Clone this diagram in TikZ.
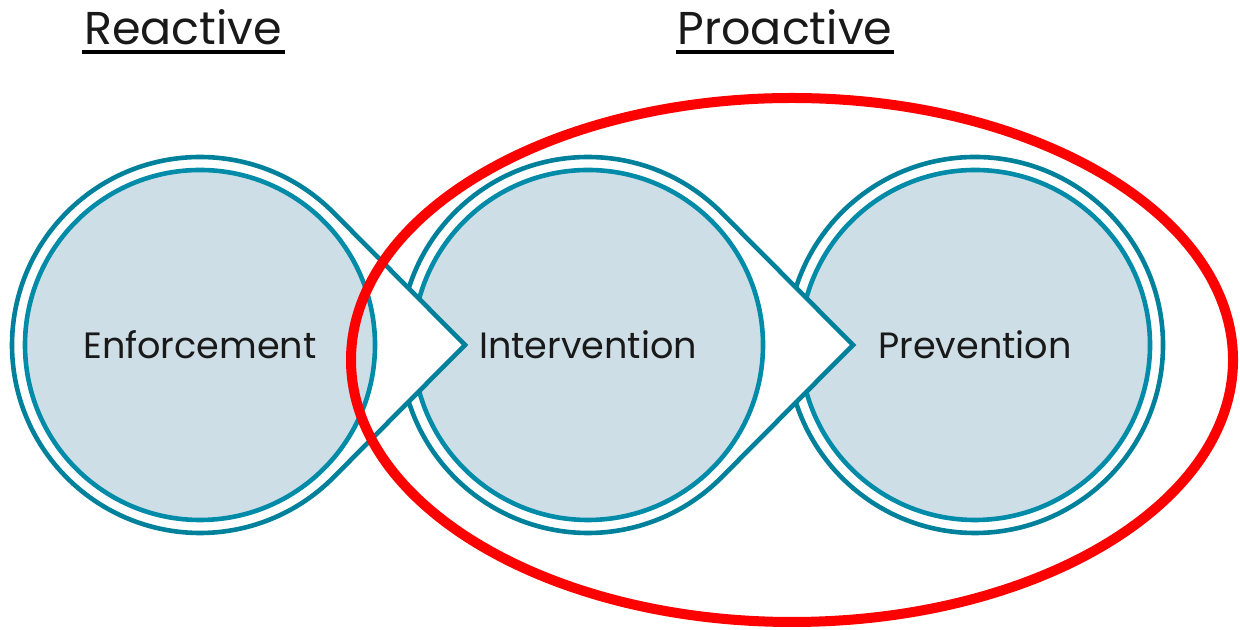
\documentclass[tikz,border=0pt]{standalone}
\usepackage{fontspec}
\setmainfont{Poppins}
\usetikzlibrary{calc}

\definecolor{ringteal}{HTML}{00819B}
\definecolor{innerteal}{HTML}{008CA8}
\definecolor{discfill}{HTML}{CEDEE6}
\definecolor{ovalred}{HTML}{FF0000}

\tikzset{
	outerring/.style={draw=ringteal, line width=2.3pt, fill=white, line join=miter},
	innerdisc/.style={draw=innerteal, line width=2.3pt, fill=discfill},
	stagelabel/.style={font=\fontsize{18.3}{20}\selectfont, text=black!90},
	sidetitle/.style={font=\fontsize{23}{25}\selectfont, text=black!90, anchor=base},
	titlerule/.style={line width=1.7pt, black}
}

\begin{document}
\begin{tikzpicture}[x=0.5pt, y=0.5pt]
		\useasboundingbox (0,0) rectangle (1240,630);

		% stage centres
		\coordinate (enf) at (200,285);
		\coordinate (int) at (588,285);
		\coordinate (prev) at (975,285);

		% right-most stage first, so each pointer covers the next one
		\draw[outerring] (prev) circle[radius=188];
		\draw[innerdisc] (prev) circle[radius=175];

		\coordinate (int tip) at (853,285);
		\draw[outerring] ($(int)+(44.8:188)$)
			arc[start angle=44.8, end angle=315.2, radius=188]
			-- (int tip) -- cycle;
		\draw[innerdisc] (int) circle[radius=175];

		\coordinate (enf tip) at (465,285);
		\draw[outerring] ($(enf)+(44.8:188)$)
			arc[start angle=44.8, end angle=315.2, radius=188]
			-- (enf tip) -- cycle;
		\draw[innerdisc] (enf) circle[radius=175];

		\node[stagelabel] (enf label) at (enf) {Enforcement};
		\node[stagelabel] (int label) at (int) {Intervention};
		\node[stagelabel] (prev label) at (prev) {Prevention};

		% proactive ring
		\draw[ovalred, line width=5pt] (792,270) ellipse[x radius=441, y radius=262];

		% titles
		\node[sidetitle] (reactive) at (183,585) {Reactive};
		\node[sidetitle] (proactive) at (785,585) {Proactive};
		\draw[titlerule] (82,578) -- (285,578);
		\draw[titlerule] (676,578) -- (894,578);

\end{tikzpicture}
\end{document}
